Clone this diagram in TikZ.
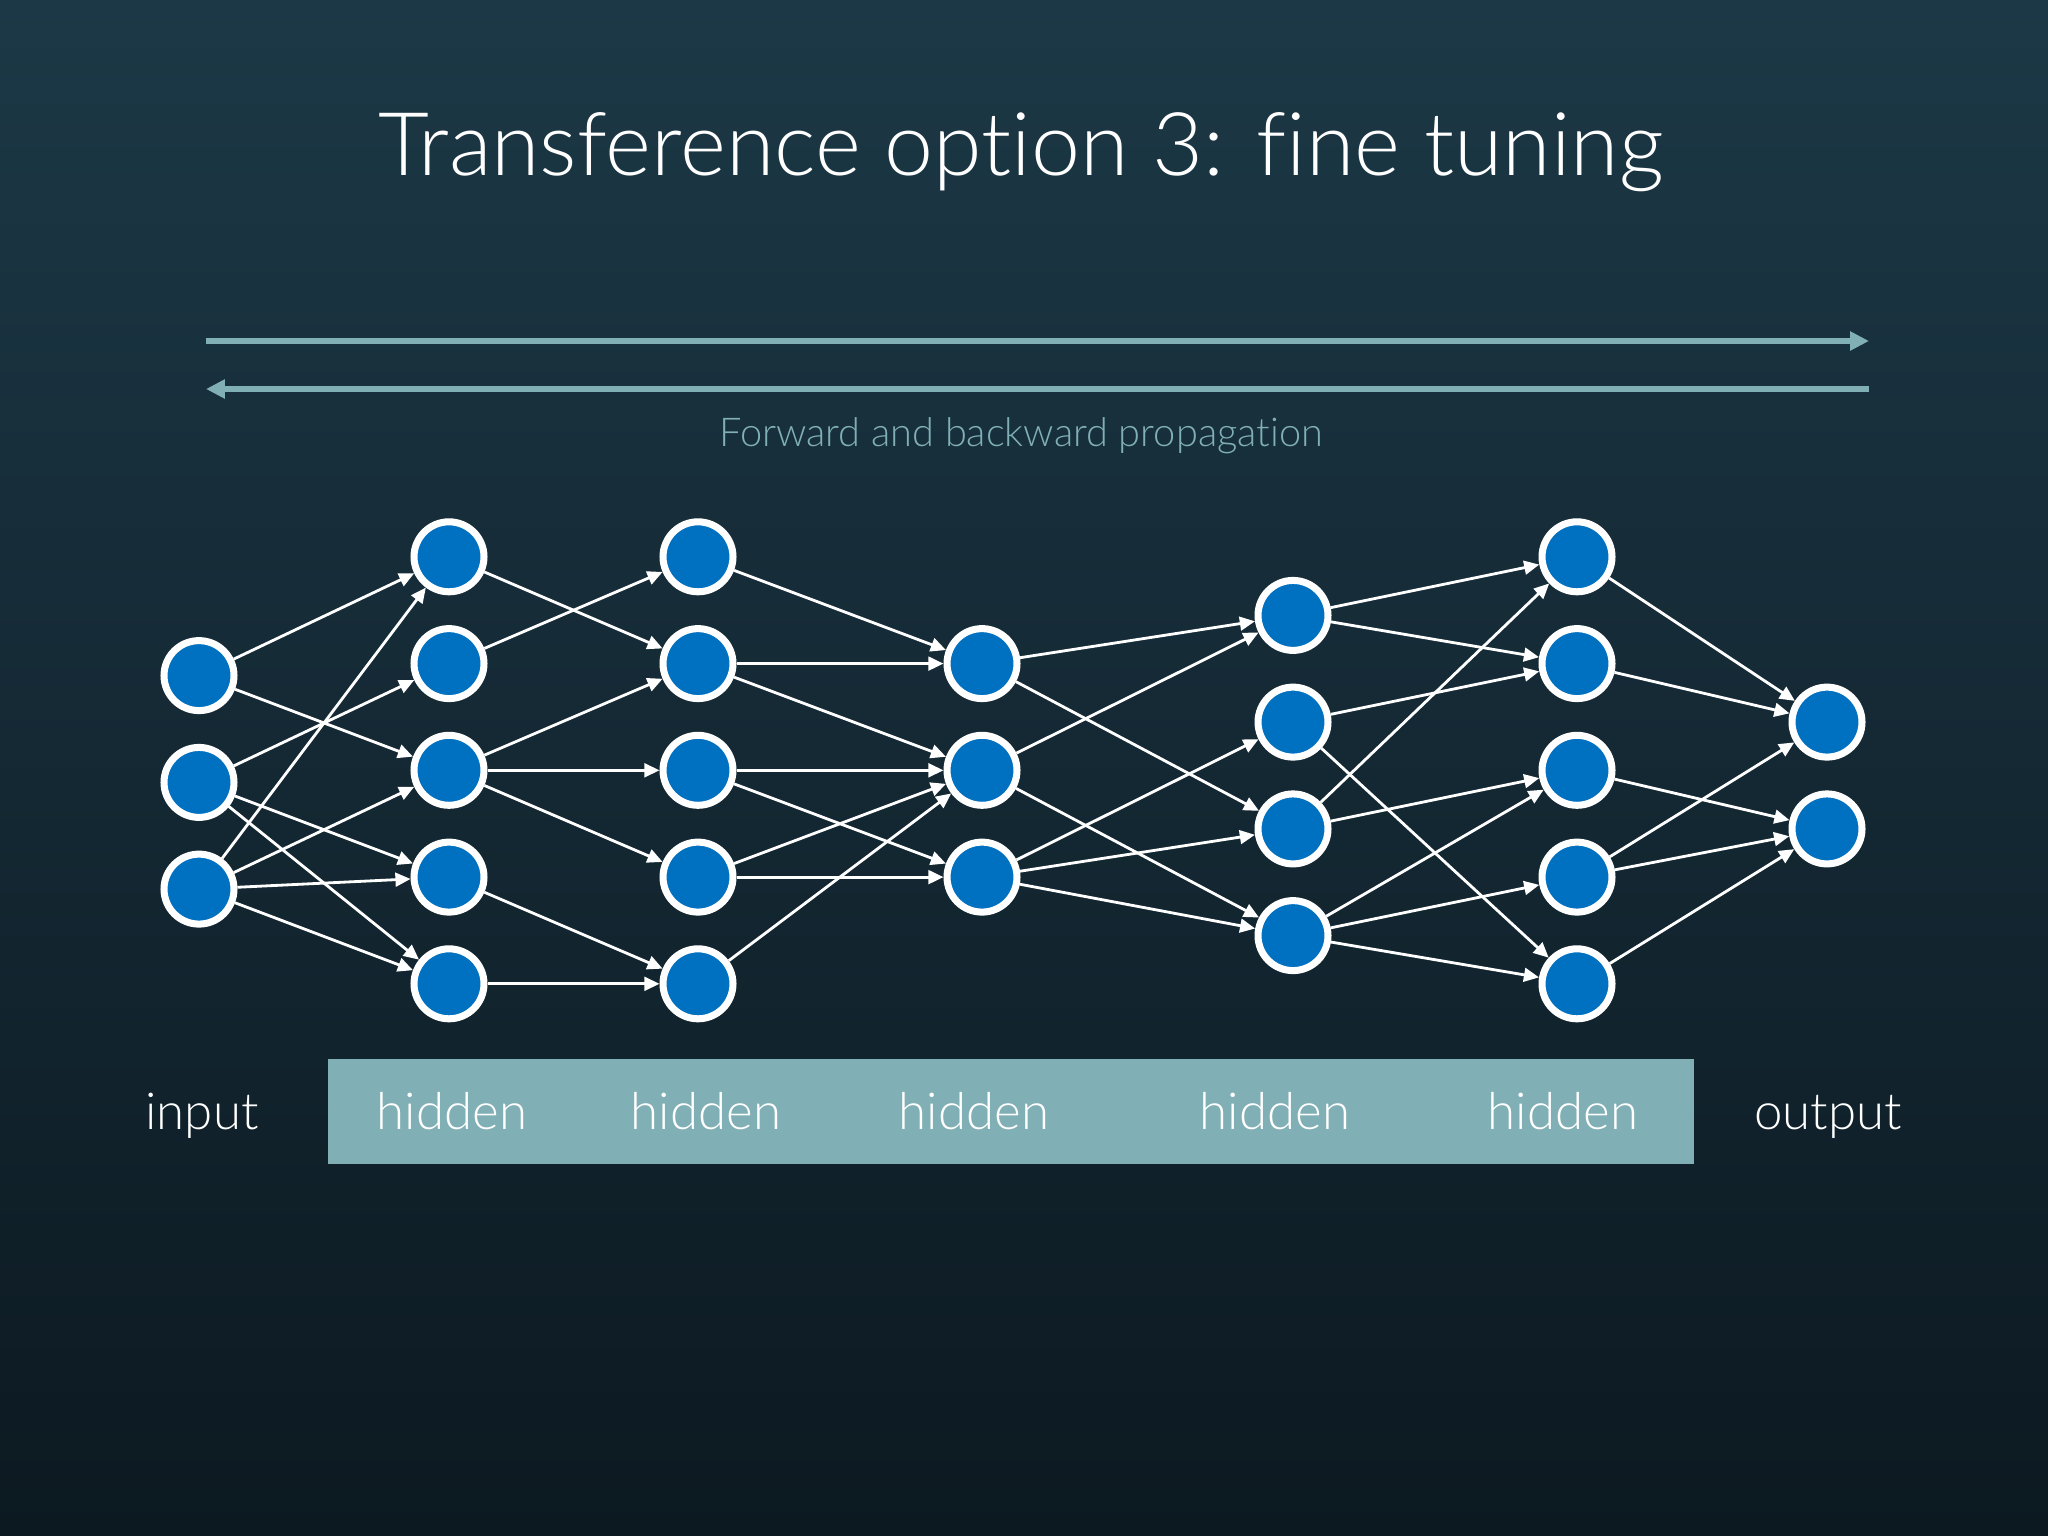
\documentclass[tikz,border=0pt]{standalone}
\usepackage{fontspec}
\newfontfamily\lightfont{Lato Light}[Ligatures={NoCommon}]
\usetikzlibrary{arrows.meta}
\definecolor{bgtop}{RGB}{28,56,70}
\definecolor{bgbot}{RGB}{12,25,33}
\definecolor{tealgrey}{RGB}{128,175,181}
\definecolor{nodeblue}{RGB}{0,112,192}
\begin{document}
\begin{tikzpicture}[x=0.01cm,y=-0.01cm,
  neuron/.style={circle,fill=nodeblue,draw=white,line width=2pt,minimum size=19.9pt,inner sep=0pt},
  edge/.style={draw=white,line width=0.8pt,-{Triangle[length=4.3pt,width=3.9pt]}},
  prop/.style={draw=tealgrey,line width=1.9pt,-{Triangle[length=5.4pt,width=5.2pt]}},
  lbl/.style={text=white,anchor=base,inner sep=0pt,font=\lightfont\fontsize{14.5}{17}\selectfont}]
\shade[top color=bgtop,bottom color=bgbot] (0,0) rectangle (2048,1536);
\useasboundingbox (0,0) rectangle (2048,1536);

% title
\node[text=white,anchor=base,inner sep=0pt,font=\lightfont\fontsize{25}{30}\selectfont] (title) at (1021,175) {Transference option 3: fine tuning};

% propagation arrows
\coordinate (fl) at (206,341);
\coordinate (fr) at (1869,341);
\coordinate (bl) at (206,389);
\coordinate (br) at (1869,389);
\draw[prop] (fl) -- (fr);
\draw[prop] (br) -- (bl);
\node[text=tealgrey,anchor=base,inner sep=0pt,font=\lightfont\fontsize{11.3}{14}\selectfont] (prop) at (1021,446) {Forward and backward propagation};

% layers
\foreach \n/\y in {1/675.6,2/782.4,3/889.1} \node[neuron] (I\n) at (199,\y) {};
\foreach \n/\y in {1/556.8,2/663.6,3/770.3,4/877.1,5/983.8} {
  \node[neuron] (A\n) at (449,\y) {};
  \node[neuron] (B\n) at (698,\y) {};
  \node[neuron] (E\n) at (1577,\y) {};
}
\foreach \n/\y in {1/663.6,2/770.3,3/877.1} \node[neuron] (C\n) at (982,\y) {};
\foreach \n/\y in {1/615.4,2/722.1,3/828.9,4/935.6} \node[neuron] (D\n) at (1293,\y) {};
\foreach \n/\y in {1/722.1,2/828.9} \node[neuron] (O\n) at (1827,\y) {};

% edges
\foreach \a/\b in {I1/A1,I1/A3,I2/A2,I2/A4,I2/A5,I3/A1,I3/A3,I3/A4,I3/A5,
  A1/B2,A2/B1,A3/B2,A3/B3,A3/B4,A4/B5,A5/B5,
  B1/C1,B2/C1,B2/C2,B3/C2,B3/C3,B4/C2,B4/C3,B5/C2,
  C1/D1,C1/D3,C2/D1,C2/D4,C3/D2,C3/D3,C3/D4,
  D1/E1,D1/E2,D2/E2,D2/E5,D3/E1,D3/E3,D4/E3,D4/E4,D4/E5,
  E1/O1,E2/O1,E3/O2,E4/O1,E4/O2,E5/O2}
  \draw[edge] (\a) -- (\b);

% bottom band
\node[fill=tealgrey,inner sep=0pt,minimum width=1366*0.01cm,minimum height=105*0.01cm] (band) at (1011,1111.5) {};
\node[lbl] (lin) at (202,1129) {input};
\foreach \i/\x in {1/452,2/706,3/974,4/1275,5/1563}
  \node[lbl] (h\i) at (\x,1129) {hidden};
\node[lbl] (lout) at (1828,1129) {output};
\end{tikzpicture}
\end{document}
